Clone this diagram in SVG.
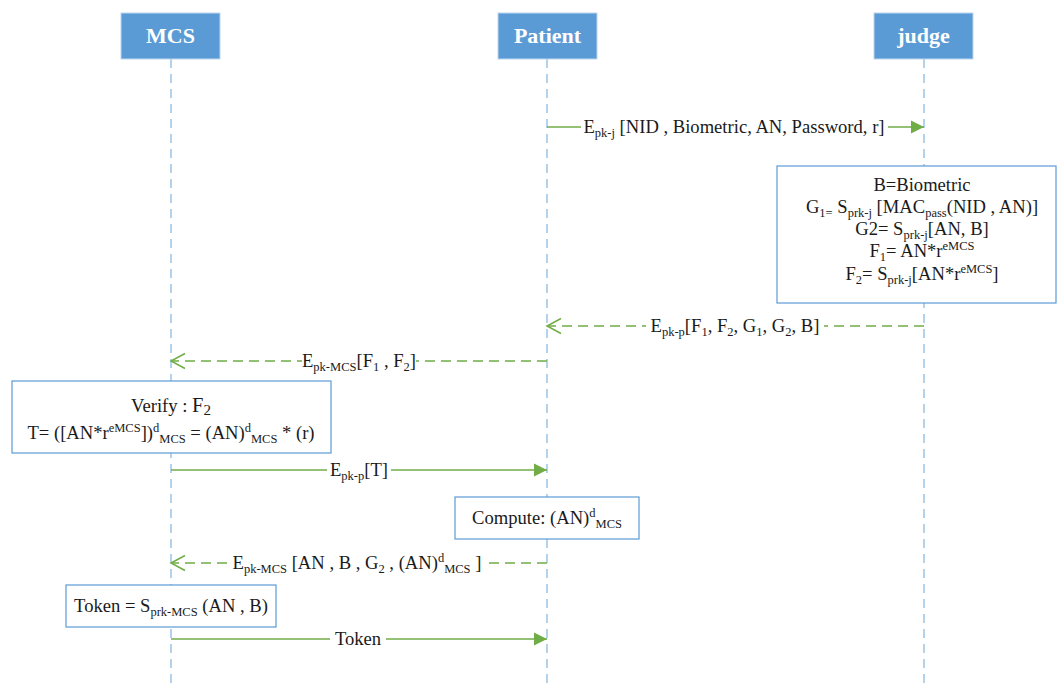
<svg xmlns="http://www.w3.org/2000/svg" width="1057" height="686" viewBox="0 0 1057 686" font-family="'Liberation Serif', 'Times New Roman', 'DejaVu Serif', serif">
  <style>
    .life { stroke: #9dc3e6; stroke-width: 1.5; stroke-dasharray: 9 6; fill: none; }
    .msg { stroke: #70ad47; stroke-width: 1.5; fill: none; }
    .ret { stroke: #70ad47; stroke-width: 1.5; stroke-dasharray: 10 6; fill: none; }
    .head rect { fill: #5b9bd5; stroke: #bdd7ee; stroke-width: 1; }
    .head text { fill: #ffffff; font-family: 'Liberation Serif', 'Times New Roman', 'DejaVu Serif', serif; font-weight: bold; font-size: 22px; text-anchor: middle; }
    .note rect { fill: #ffffff; stroke: #5b9bd5; stroke-width: 1.2; }
    .t { font-family: 'Liberation Serif', 'Times New Roman', 'DejaVu Serif', serif; font-size: 18.6px; fill: #1a1a1a; text-anchor: middle; }
    .s { font-size: 12.5px; }
    .bg { fill: #ffffff; }
  </style>
  <defs>
    <marker id="arrowFill" markerUnits="userSpaceOnUse" markerWidth="14" markerHeight="14" refX="13" refY="6.5" orient="auto" overflow="visible">
      <path d="M0,0 L13,6.5 L0,13 z" fill="#70ad47"/>
    </marker>
    <marker id="arrowOpen" markerUnits="userSpaceOnUse" markerWidth="16" markerHeight="17" refX="14" refY="8" orient="auto" overflow="visible">
      <path d="M0,0.5 L14,8 L0,15.5" fill="none" stroke="#70ad47" stroke-width="1.5"/>
    </marker>
  </defs>

  <rect width="1057" height="686" fill="#ffffff"/>

  <!-- lifelines -->
  <g id="lifelines">
    <line class="life" x1="171" y1="59" x2="171" y2="686"/>
    <line class="life" x1="547" y1="59" x2="547" y2="686"/>
    <line class="life" x1="924" y1="59" x2="924" y2="686"/>
  </g>

  <!-- participants -->
  <g id="mcs" class="head">
    <rect x="121" y="13" width="99" height="46"/>
    <text x="170.5" y="43">MCS</text>
  </g>
  <g id="patient" class="head">
    <rect x="498" y="13" width="99" height="46"/>
    <text x="547.5" y="43">Patient</text>
  </g>
  <g id="judge" class="head">
    <rect x="874" y="13" width="99" height="46"/>
    <text x="923.5" y="43">judge</text>
  </g>

  <!-- notes on lifelines -->
  <g id="judge-compute" class="note">
    <rect x="777" y="166" width="279" height="137"/>
    <text class="t" x="922" y="191">B=Biometric</text>
    <text class="t" x="922" y="213">G<tspan class="s" dy="4">1=</tspan><tspan dy="-4"> S</tspan><tspan class="s" dy="4">prk-j</tspan><tspan dy="-4"> [MAC</tspan><tspan class="s" dy="4">pass</tspan><tspan dy="-4">(NID , AN)]</tspan></text>
    <text class="t" x="922" y="235">G2= S<tspan class="s" dy="4">prk-j</tspan><tspan dy="-4">[AN, B]</tspan></text>
    <text class="t" x="922" y="257">F<tspan class="s" dy="4">1</tspan><tspan dy="-4">= AN*r</tspan><tspan class="s" dy="-7">eMCS</tspan></text>
    <text class="t" x="922" y="280">F<tspan class="s" dy="4">2</tspan><tspan dy="-4">= S</tspan><tspan class="s" dy="4">prk-j</tspan><tspan dy="-4">[AN*r</tspan><tspan class="s" dy="-7">eMCS</tspan><tspan dy="7">]</tspan></text>
  </g>

  <g id="mcs-verify" class="note">
    <rect x="12" y="381" width="319" height="72"/>
    <text class="t" x="171" y="412">Verify : <tspan font-size="20.5">F</tspan><tspan font-size="15" dy="3">2</tspan></text>
    <text class="t" x="171" y="439">T= ([AN*r<tspan class="s" dy="-7">eMCS</tspan><tspan dy="7">])</tspan><tspan class="s" dy="-7">d</tspan><tspan class="s" dy="11">MCS</tspan><tspan dy="-4"> = (AN)</tspan><tspan class="s" dy="-7">d</tspan><tspan class="s" dy="11">MCS</tspan><tspan dy="-4"> * (r)</tspan></text>
  </g>

  <g id="patient-compute" class="note">
    <rect x="455" y="497" width="184" height="42"/>
    <text class="t" x="547" y="524">Compute: (AN)<tspan class="s" dy="-7">d</tspan><tspan class="s" dy="11">MCS</tspan></text>
  </g>

  <g id="mcs-token" class="note">
    <rect x="66" y="585" width="210" height="42"/>
    <text class="t" x="171" y="612">Token = S<tspan class="s" dy="4">prk-MCS</tspan><tspan dy="-4"> (AN , B)</tspan></text>
  </g>

  <!-- messages -->
  <g id="connectors">
    <g id="m1">
      <line class="msg" x1="547" y1="127" x2="924" y2="127" marker-end="url(#arrowFill)"/>
      <rect class="bg" x="581" y="116" width="307" height="22"/>
      <text class="t" x="734" y="133">E<tspan class="s" dy="4">pk-j</tspan><tspan dy="-4"> [NID , Biometric, AN, Password, r]</tspan></text>
    </g>
    <g id="m2">
      <line class="ret" x1="924" y1="326" x2="547" y2="326" marker-end="url(#arrowOpen)"/>
      <rect class="bg" x="646" y="315" width="178" height="22"/>
      <text class="t" x="735" y="332">E<tspan class="s" dy="4">pk-p</tspan><tspan dy="-4">[F</tspan><tspan class="s" dy="4">1</tspan><tspan dy="-4">, F</tspan><tspan class="s" dy="4">2</tspan><tspan dy="-4">, G</tspan><tspan class="s" dy="4">1</tspan><tspan dy="-4">, G</tspan><tspan class="s" dy="4">2</tspan><tspan dy="-4">, B]</tspan></text>
    </g>
    <g id="m3">
      <line class="ret" x1="547" y1="361" x2="171" y2="361" marker-end="url(#arrowOpen)"/>
      <rect class="bg" x="302" y="350" width="114" height="22"/>
      <text class="t" x="359" y="367">E<tspan class="s" dy="4">pk-MCS</tspan><tspan dy="-4">[F</tspan><tspan class="s" dy="4">1</tspan><tspan dy="-4"> , F</tspan><tspan class="s" dy="4">2</tspan><tspan dy="-4">]</tspan></text>
    </g>
    <g id="m4">
      <line class="msg" x1="171" y1="470" x2="547" y2="470" marker-end="url(#arrowFill)"/>
      <rect class="bg" x="327" y="459" width="64" height="22"/>
      <text class="t" x="359" y="476">E<tspan class="s" dy="4">pk-p</tspan><tspan dy="-4">[T]</tspan></text>
    </g>
    <g id="m5">
      <line class="ret" x1="547" y1="563" x2="171" y2="563" marker-end="url(#arrowOpen)"/>
      <rect class="bg" x="229" y="550" width="257" height="24"/>
      <text class="t" x="357" y="569">E<tspan class="s" dy="4">pk-MCS</tspan><tspan dy="-4"> [AN , B , G</tspan><tspan class="s" dy="4">2</tspan><tspan dy="-4"> , (AN)</tspan><tspan class="s" dy="-7">d</tspan><tspan class="s" dy="11">MCS</tspan><tspan dy="-4"> ]</tspan></text>
    </g>
    <g id="m6">
      <line class="msg" x1="171" y1="639" x2="547" y2="639" marker-end="url(#arrowFill)"/>
      <rect class="bg" x="330" y="629" width="56" height="20"/>
      <text class="t" x="358" y="645">Token</text>
    </g>
  </g>
</svg>
